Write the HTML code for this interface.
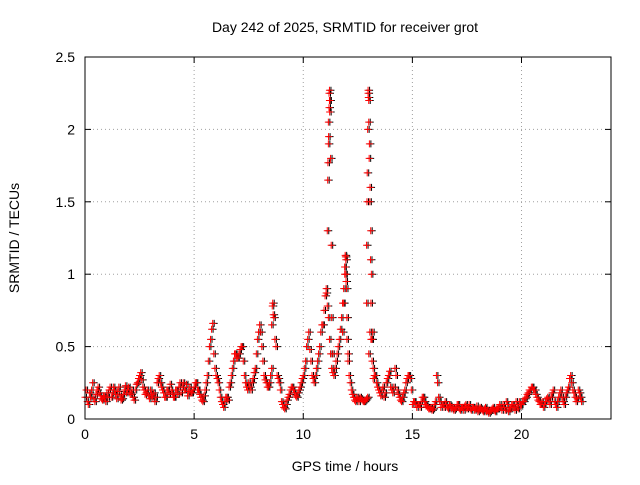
<!DOCTYPE html>
<html><head><meta charset="utf-8"><style>
body{margin:0;background:#fff;}
text{font-family:"Liberation Sans",sans-serif;font-size:14px;fill:#000;}
</style></head><body>
<svg id="chart" width="640" height="480" xmlns="http://www.w3.org/2000/svg">
<rect width="640" height="480" fill="#fff"/>
<text x="345" y="32" text-anchor="middle">Day 242 of 2025, SRMTID for receiver grot</text>
<g id="grid"></g>
<g id="ticks"></g>
<g id="marks"></g>
<rect x="85" y="57" width="526" height="362" fill="none" stroke="#000" stroke-width="1"/>
<text x="345" y="471" text-anchor="middle">GPS time / hours</text>
<text transform="translate(19,238) rotate(-90)" text-anchor="middle">SRMTID / TECUs</text>
</svg>
<script>
const xTicks=[0,5,10,15,20];
const yTicks=[0,0.5,1,1.5,2,2.5];
const yTickLabels=["0","0.5","1","1.5","2","2.5"];
const values=[
.15,.12,.18,.2,.14,.17,.22,.16,.13,.15,
.18,.2,.15,.22,.17,.19,.16,.14,.2,.18,
.22,.17,.15,.2,.25,.3,.27,.2,.18,.16,
.2,.15,.12,.25,.3,.22,.18,.15,.2,.24,
.18,.15,.2,.22,.18,.25,.2,.16,.22,.18,
.22,.25,.2,.15,.12,.2,.3,.5,.62,.45,
.3,.25,.15,.1,.12,.15,.22,.3,.4,.45,
.42,.48,.5,.3,.22,.25,.2,.28,.35,.55,
.65,.5,.3,.25,.22,.3,.8,.55,.3,.25,
.12,.08,.1,.15,.2,.22,.18,.15,.2,.25,
.3,.4,.55,.48,.3,.25,.35,.45,.6,.65,
.85,.78,.55,.35,.3,.4,.5,.62,.8,1.05,
.55,.3,.2,.15,.12,.14,.15,.13,.12,.14,
.45,.55,.28,.3,.22,.18,.2,.15,.25,.3,
.22,.18,.35,.2,.15,.12,.18,.25,.3,.28,
.1,.12,.08,.1,.12,.15,.1,.08,.07,.06,
.1,.3,.15,.08,.1,.12,.08,.1,.07,.06,
.08,.1,.06,.08,.09,.07,.1,.06,.08,.07,
.05,.08,.06,.07,.05,.04,.06,.08,.05,.07,
.1,.06,.08,.12,.05,.08,.1,.06,.09,.12,
.1,.12,.15,.18,.2,.22,.2,.15,.12,.1,
.08,.12,.15,.1,.18,.12,.08,.15,.2,.12,
.15,.2,.28,.25,.18,.12,.2,.15];
const valuesB=[
.2,.1,.15,.25,.12,.2,.18,.14,.16,.12,
.15,.22,.18,.2,.14,.22,.13,.17,.23,.2,
.18,.2,.13,.24,.28,.32,.22,.17,.2,.14,
.17,.18,.15,.28,.25,.2,.15,.2,.17,.2,
.15,.2,.17,.25,.22,.2,.24,.19,.18,.2,
.25,.2,.17,.13,.16,.25,.4,.55,.66,.35,
.28,.2,.12,.08,.15,.13,.25,.35,.45,.42,
.45,.5,.4,.25,.2,.22,.25,.32,.45,.6,
.6,.4,.27,.22,.25,.35,.7,.5,.28,.2,
.1,.07,.13,.17,.22,.2,.16,.18,.22,.28,
.35,.5,.6,.4,.28,.3,.4,.5,.65,.75,
.87,.7,.45,.32,.35,.45,.55,.7,.9,1.0,
.4,.25,.17,.13,.15,.12,.14,.12,.13,.15,
.6,.4,.3,.25,.2,.16,.22,.18,.28,.33,
.2,.22,.3,.17,.13,.15,.2,.28,.3,.2,
.12,.1,.1,.08,.15,.12,.09,.07,.08,.07,
.12,.25,.12,.1,.08,.1,.07,.09,.08,.07,
.1,.07,.08,.06,.1,.08,.07,.08,.06,.09,
.06,.07,.05,.08,.06,.05,.07,.06,.07,.08,
.08,.1,.06,.1,.07,.1,.08,.12,.07,.1,
.12,.14,.17,.2,.22,.2,.17,.13,.1,.12,
.1,.14,.12,.15,.2,.1,.12,.18,.15,.1,
.18,.22,.3,.2,.15,.14,.18,.12];
const peakTimes=[11.05,11.1,11.12,11.15,11.18,11.2,11.22,11.25,11.28,11.3,11.35,11.85,11.9,11.92,11.95,11.98,12.0,12.05,12.9,12.92,12.95,12.97,13.0,13.03,13.05,13.08,13.1,13.15,13.2,
11.18,11.2,11.21,11.15,11.13,11.16,12.97,12.98,13.0,13.02,13.06,13.09,13.12,13.18,12.93,12.9,11.9,11.93,11.96,11.8,8.58,8.62,8.55];
const peakValues=[.9,1.3,1.65,1.9,2.15,2.27,2.2,1.8,1.2,.7,.45,.8,1.0,1.13,1.1,.9,.7,.45,.8,1.5,2.0,2.27,2.2,1.9,1.5,1.1,.8,.55,.35,
2.25,2.2,2.12,2.05,1.77,1.95,2.25,2.22,2.05,1.8,1.6,1.3,1.0,.6,1.7,1.2,1.05,1.12,.95,.6,.78,.72,.65];
const X0=85,X1=611,Y0=419,Y1=57,XMAX=24.1,YMAX=2.5;
const xs=t=>X0+t/XMAX*(X1-X0);
const ys=v=>Y0-v/YMAX*(Y0-Y1);
const NS="http://www.w3.org/2000/svg";
const grid=document.getElementById('grid'),ticks=document.getElementById('ticks'),marks=document.getElementById('marks');
function mk(tag,attrs,parent){const e=document.createElementNS(NS,tag);for(const k in attrs)e.setAttribute(k,attrs[k]);parent.appendChild(e);return e;}
xTicks.forEach(t=>{const x=xs(t);
 if(t>0){const g=mk('line',{x1:x,x2:x,y1:Y0,y2:Y1,stroke:'#a0a0a0','stroke-dasharray':'1,3'},grid);}
 const l=mk('text',{x:x,y:Y0+20,'text-anchor':'middle'},ticks);l.textContent=t;
 
 
 mk('line',{x1:x,x2:x,y1:Y0,y2:Y0-6,stroke:'#000'},ticks);mk('line',{x1:x,x2:x,y1:Y1,y2:Y1+6,stroke:'#000'},ticks);});
yTicks.forEach((v,i)=>{const y=ys(v);
 if(v>0&&v<YMAX){const g=mk('line',{x1:X0,x2:X1,y1:y,y2:y,stroke:'#a0a0a0','stroke-dasharray':'1,3'},grid);}
 const l=mk('text',{x:X0-10,y:y+5,'text-anchor':'end'},ticks);l.textContent=yTickLabels[i];
 
 
 mk('line',{x1:X0,x2:X0+6,y1:y,y2:y,stroke:'#000'},ticks);mk('line',{x1:X1,x2:X1-6,y1:y,y2:y,stroke:'#000'},ticks);});
function plus(t,v,c,dx){const x=xs(t)+dx,y=ys(v);
 const p=mk('path',{d:`M${x-3.5},${y}h7M${x},${y-3.5}v7`,stroke:c,'stroke-width':1,fill:'none'},marks);
 
 }
const all=values.map((v,i)=>[i*0.1,v])
 .concat(valuesB.map((v,i)=>[i*0.1+0.05,v]))
 .concat(peakTimes.map((t,i)=>[t,peakValues[i]]));
all.forEach(([t,v])=>plus(t,v,'#000',1.5));
all.forEach(([t,v])=>plus(t,v,'#f00',0));
</script>
</body></html>
